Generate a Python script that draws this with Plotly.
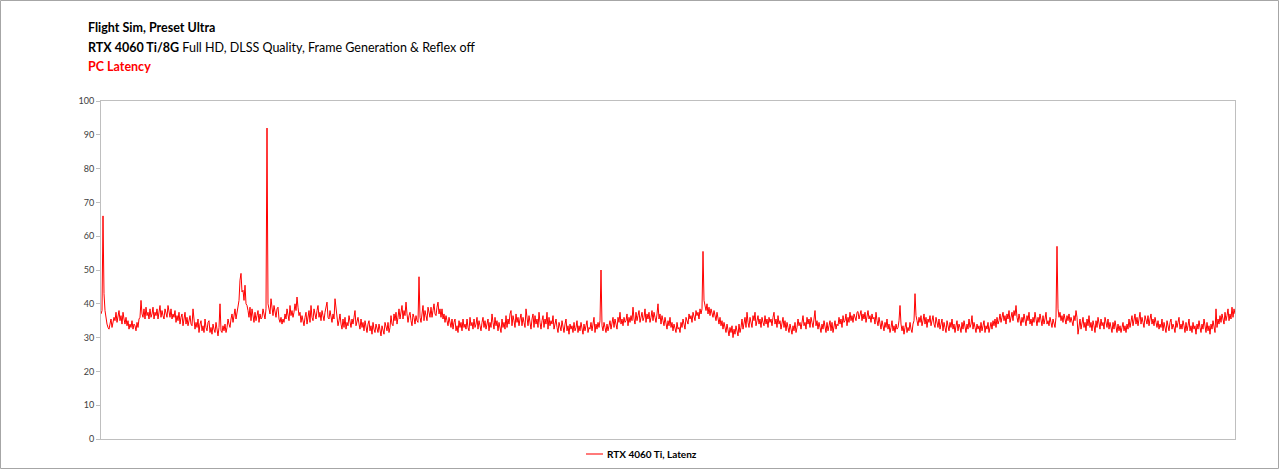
import plotly.graph_objects as go

# Latency samples (ms), one per pixel column, left to right
seg_a = [37, 38, 66, 43, 38, 35, 34, 33, 32.5, 34,
         35.5, 33, 34.5, 36, 35, 37.5, 34.5, 36, 38, 35,
         36.5, 34, 37.5, 35.5, 34, 36, 33.5, 35, 32.5, 34,
         33, 35, 32.5, 34, 33.5, 32, 34.5, 33, 35.5, 36,
         41, 37, 36, 38.5, 35.5, 39, 36.5, 37.5, 35.5, 38.5,
         36, 37, 39, 35.5, 37.5, 36.5, 38.5, 35.5, 37, 39.5,
         36, 38, 36.5, 35.5, 38.5, 37, 36, 39.5, 37.5, 36,
         38.5, 35.5, 37, 36, 38, 34.5, 36.5, 35, 37.5, 34,
         36, 37, 33.5, 35.5, 37.5, 34, 36, 33.5, 35, 36.5,
         34, 33.5, 38.5, 35, 32.5, 34.5, 33, 35.5, 31.5, 34]
seg_b = [35, 32, 33.5, 31.5, 35.5, 33, 32, 34.5, 35, 31.5,
         33, 31, 34, 32.5, 31.5, 34.5, 32, 30.5, 33, 40,
         32, 31.5, 33.5, 32, 34, 31.5, 33, 35.5, 34, 33,
         35.5, 37, 34.5, 36, 38.5, 35.5, 37, 39, 41, 47,
         49, 43.5, 44, 41, 45.5, 40, 39.5, 38, 36, 39,
         35, 38.5, 36.5, 34.5, 37.5, 35, 36.5, 38, 34.5, 37,
         35.5, 36, 38.5, 37, 35.5, 38.5, 92, 40, 38.5, 37,
         41.5, 38, 36.5, 39.5, 37.5, 36, 38.5, 39, 35.5, 34.5,
         36, 34, 35.5, 34.5, 37, 35.5, 38.5, 36, 35, 39.5,
         36.5, 38, 36, 37.5, 40, 38, 42, 39, 36.5, 37.5]
seg_c = [34.5, 36.5, 35, 33.5, 36, 37.5, 34, 35.5, 38, 34.5,
         39.5, 36, 35, 38.5, 37, 35.5, 38, 39.5, 36, 37.5,
         35, 38, 36.5, 35, 37.5, 39, 40.5, 36, 35.5, 38,
         36.5, 34.5, 37, 35.5, 41.5, 38, 36, 33.5, 35, 37,
         34, 32.5, 35.5, 33, 36, 32.5, 34.5, 33.5, 36.5, 35,
         33, 35.5, 34, 36, 38, 33.5, 35, 36, 34, 32.5,
         35.5, 33, 34.5, 32, 35, 33.5, 31.5, 34, 35, 32,
         33.5, 31, 34.5, 32.5, 31.5, 34, 33, 31.5, 34, 32,
         30.5, 33.5, 32, 31, 34.5, 33, 32, 34.5, 31.5, 33,
         36.5, 34, 33.5, 37, 35, 37.5, 34, 36, 38.5, 35.5]
seg_d = [37, 39.5, 35.5, 38, 36.5, 40.5, 37, 34.5, 36.5, 37.5,
         35, 33.5, 37, 36, 34, 36.5, 35, 34.5, 48, 36,
         34.5, 37.5, 39.5, 35, 38, 36.5, 35, 39, 37.5, 36,
         39, 36, 38, 40, 37, 36.5, 39, 40.5, 37, 38.5,
         36, 38.5, 35.5, 37, 34.5, 36.5, 35, 33.5, 36, 34.5,
         33, 35.5, 32.5, 34.5, 35.5, 32, 33.5, 31.5, 35, 33,
         34.5, 32, 35.5, 33, 34, 32.5, 35.5, 33, 32, 36,
         33.5, 34.5, 32.5, 35.5, 33, 34, 36, 32.5, 35, 33.5,
         32, 34.5, 36, 33, 35, 32.5, 34, 35.5, 32, 34.5,
         33, 37, 34.5, 32.5, 36, 33.5, 35, 32, 34.5, 33]
seg_e = [31.5, 35.5, 33, 34.5, 32.5, 36.5, 33, 35.5, 34, 37,
         38, 33.5, 36.5, 35, 33, 37, 34.5, 36, 33.5, 35.5,
         37, 33.5, 36, 34.5, 33, 38.5, 35, 33.5, 36.5, 34,
         32.5, 35.5, 37, 33, 36.5, 34, 35.5, 33, 37.5, 34.5,
         32.5, 35, 36.5, 33, 35.5, 34, 37.5, 32.5, 36, 33.5,
         35, 34, 36.5, 32.5, 34, 35.5, 33, 31.5, 34.5, 33,
         32, 35, 33.5, 31.5, 34, 35.5, 32, 33.5, 31, 34,
         32.5, 33.5, 31.5, 34.5, 32, 33, 35, 31.5, 33.5, 32,
         34.5, 32.5, 31, 34, 32, 33.5, 35, 31.5, 33, 32.5,
         34.5, 32, 33.5, 36, 31.5, 34, 32.5, 34.5, 33, 35]
seg_f = [50, 33.5, 32, 34.5, 33, 31.5, 34, 32, 33.5, 35,
         32.5, 34, 36, 33, 35.5, 34, 32.5, 36, 34.5, 37.5,
         34, 35.5, 33.5, 36, 34.5, 35, 37, 33.5, 36, 34.5,
         36.5, 35, 39, 35.5, 34, 37.5, 35, 36.5, 38, 34.5,
         36.5, 37.5, 35, 36, 38.5, 34.5, 37, 35.5, 37.5, 34.5,
         36, 38, 35, 37.5, 36, 34.5, 37, 40, 35.5, 37,
         34, 36.5, 35, 33.5, 36, 34, 32.5, 35, 33.5, 36,
         33, 34.5, 32, 34, 33, 31.5, 34.5, 32.5, 33, 31.5,
         34.5, 33, 35.5, 34, 32.5, 36, 35, 34, 37, 35.5,
         36.5, 34.5, 37.5, 36, 35, 38, 36.5, 37.5, 35.5, 38.5]
seg_g = [37, 38.5, 55.5, 41, 39.5, 38, 40, 37, 39, 36.5,
         38.5, 37, 36, 38, 36.5, 35, 37.5, 35.5, 34, 36,
         33.5, 35, 32.5, 34.5, 33, 31.5, 34, 32, 30.5, 33,
         31.5, 33.5, 30, 32.5, 31, 33.5, 32, 30.5, 34, 31.5,
         33, 35.5, 32.5, 34, 36, 33, 37.5, 34.5, 33, 36,
         34.5, 33, 36.5, 35, 37.5, 33.5, 35, 36.5, 34, 35.5,
         33, 36, 34.5, 33.5, 36.5, 34, 35.5, 33, 36, 34.5,
         35.5, 33.5, 36, 37.5, 34, 35.5, 33, 36.5, 34, 35,
         32.5, 34.5, 36, 33, 35, 32, 34.5, 33, 31.5, 34,
         32.5, 31, 33.5, 32, 34.5, 31.5, 33, 35.5, 33.5, 34.5]
seg_h = [32.5, 35, 36.5, 33.5, 34.5, 32.5, 36, 34, 35.5, 33,
         36, 34.5, 33, 35.5, 38, 33.5, 35, 32.5, 34.5, 33,
         31.5, 34, 32.5, 35, 33.5, 31.5, 34.5, 32, 33.5, 35,
         32, 34.5, 31.5, 33, 35, 32.5, 34, 33.5, 36, 34,
         35.5, 33, 36.5, 34.5, 35, 37, 33.5, 36, 34.5, 37.5,
         35, 36.5, 34.5, 37, 36, 35, 37.5, 37.7, 35.5, 36.5,
         38, 35, 37, 35.5, 37.5, 34.5, 36.5, 38, 35.5, 36.5,
         34.5, 37, 35.5, 36, 34, 37.5, 35, 33.5, 36, 34,
         32.5, 35, 33.5, 32, 34.5, 33, 35.5, 32.5, 34, 31.5,
         33, 35, 32, 33.5, 31.5, 34, 32.5, 33, 35, 39.5]
seg_i = [34, 32, 33.5, 31, 33, 34.5, 31.5, 33, 32, 34.5,
         32.5, 31.5, 34, 35, 43, 36.5, 35, 33.5, 36, 34.5,
         36.5, 33.5, 35, 37, 34, 36, 33, 35.5, 34.5, 36.5,
         33.5, 35, 36.5, 34, 33, 36, 34.5, 33, 35.5, 32.5,
         34, 35.5, 32, 34.5, 33, 31.5, 35, 33.5, 32, 34.5,
         33, 35.5, 32.5, 34, 31.5, 33.5, 35, 32, 34, 33,
         31.5, 34.5, 32.5, 35, 33.5, 31.5, 34, 32.5, 35.5, 33,
         34, 36.5, 32.5, 34.5, 33, 31.5, 34, 32.5, 33.5, 31.5,
         34.5, 32, 33.5, 35, 31.5, 33.5, 32.5, 34.5, 31.5, 33,
         34.5, 32.5, 35, 33.5, 35.5, 33, 36, 34, 35, 37]
seg_j = [34.5, 36, 37.5, 35, 36.5, 34, 37, 35.5, 38, 34.5,
         36.5, 37.5, 35, 38, 36.5, 39.5, 36, 34.5, 37, 35.5,
         33.5, 36, 34.5, 37, 35, 33.5, 36.5, 35, 37.5, 34,
         35.5, 33.5, 36, 34.5, 37.5, 35, 33.5, 36, 34.5, 37,
         35, 33.5, 36.5, 34, 35.5, 37.5, 34, 35, 33.5, 36,
         34.5, 33, 35.5, 34, 33, 36, 57, 38.5, 36, 37.5,
         35, 36.5, 34.5, 37, 35.5, 34, 36.5, 35, 37, 34.5,
         36, 35, 33.5, 36.5, 35, 38, 36, 31, 33.5, 35.5,
         32.5, 34, 36, 33, 34.5, 32, 35.5, 33.5, 36.5, 33,
         34.5, 32, 35, 33.5, 31.5, 35, 33, 36, 34, 32.5]
seg_k = [35.5, 33.5, 34.5, 32.5, 36, 34, 33, 35.5, 32.5, 34.5,
         33, 31.5, 34.5, 32.5, 35, 33, 31.5, 34, 32, 33.5,
         31.5, 33, 34.5, 32, 33.5, 31.5, 34, 32.5, 35.5, 33,
         34.5, 36.5, 33.5, 35, 37, 34, 36, 33.5, 35.5, 37.5,
         34, 36, 34.5, 33, 36.5, 35, 34, 36.5, 33.5, 35.5,
         37, 34, 35.5, 33.5, 36, 34.5, 33, 35, 32.5, 34,
         33, 35.5, 32, 34.5, 33, 31.5, 35, 33.5, 32, 34.5,
         35.5, 32.5, 34, 33, 31.5, 35, 33, 34.5, 36, 32.5,
         34, 32.5, 35, 33.5, 31.5, 34.5, 32, 33.5, 35.5, 32,
         33.5, 31.5, 34.5, 32.5, 33.5, 31, 34, 32.5, 35, 33]
seg_l = [31.5, 34, 32.5, 35.5, 33, 31.5, 34.5, 32, 33.5, 31,
         34, 32.5, 35, 33, 31.5, 38.5, 33, 35.5, 34, 36.5,
         34.5, 37, 35.5, 34, 37.5, 35, 36.5, 38.5, 35, 37,
         35.5, 39, 36, 38.5, 37]

latency = seg_a + seg_b + seg_c + seg_d + seg_e + seg_f + seg_g + seg_h + seg_i + seg_j + seg_k + seg_l
samples = list(range(len(latency)))

series_name = "RTX 4060 Ti, Latenz"
title_1 = "Flight Sim, Preset Ultra"
title_2_bold = "RTX 4060 Ti/8G"
title_2_rest = " Full HD, DLSS Quality, Frame Generation & Reflex off"
title_3 = "PC Latency"
y_ticks = [0, 10, 20, 30, 40, 50, 60, 70, 80, 90, 100]

W, H = 1280, 470
L, R, T, B = 101, 45, 101, 31
pw, ph = W - L - R, H - T - B


def px(xp):
    return (xp - L) / pw


def py(yp):
    return (H - B - yp) / ph


FONT = "Lato"

fig = go.Figure()
fig.add_trace(go.Scatter(
    x=samples, y=latency, mode="lines", name=series_name,
    line=dict(color="#ff0000", width=1), showlegend=False,
))

fig.update_layout(
    width=W, height=H,
    margin=dict(l=L, r=R, t=T, b=B, pad=0, autoexpand=False),
    paper_bgcolor="white", plot_bgcolor="white",
    font=dict(family=FONT, color="#404040", size=9),
    xaxis=dict(range=[0, len(latency) - 1], showticklabels=False, ticks="",
               showgrid=False, zeroline=False, showline=True, linecolor="#bfbfbf",
               linewidth=1, mirror=True),
    yaxis=dict(range=[0, 100], tickvals=y_ticks, ticks="outside", ticklen=4,
               tickcolor="#bfbfbf", showgrid=False, zeroline=False, showline=True,
               linecolor="#bfbfbf", linewidth=1, mirror=True,
               tickfont=dict(family=FONT, size=9, color="#404040")),
    showlegend=False,
)

annots = [
    ("<b>" + title_1 + "</b>", 27, "#000000"),
    ("<b>" + title_2_bold + "</b>" + title_2_rest, 47, "#000000"),
    ("<b>" + title_3 + "</b>", 67, "#ff0000"),
]
for text, yc, col in annots:
    fig.add_annotation(text=text, xref="paper", yref="paper", x=px(86), y=py(yc),
                       xanchor="left", yanchor="middle", showarrow=False,
                       font=dict(family=FONT, size=12.5, color=col))

# legend (drawn manually so it does not push the plot margins)
fig.add_shape(type="line", xref="paper", yref="paper",
              x0=px(586), x1=px(603), y0=py(454), y1=py(454),
              line=dict(color="#ff7a7a", width=2))
fig.add_annotation(text="<b>" + series_name + "</b>", xref="paper", yref="paper",
                   x=px(605), y=py(454), xanchor="left", yanchor="middle", showarrow=False,
                   font=dict(family=FONT, size=10, color="#000000"))

# outer chart border
fig.add_shape(type="rect", xref="paper", yref="paper",
              x0=px(0.5), x1=px(1278.5), y0=py(468.5), y1=py(0.5),
              line=dict(color="#a6a6a6", width=1), fillcolor="rgba(0,0,0,0)", layer="below")

fig.write_html("out.html")
